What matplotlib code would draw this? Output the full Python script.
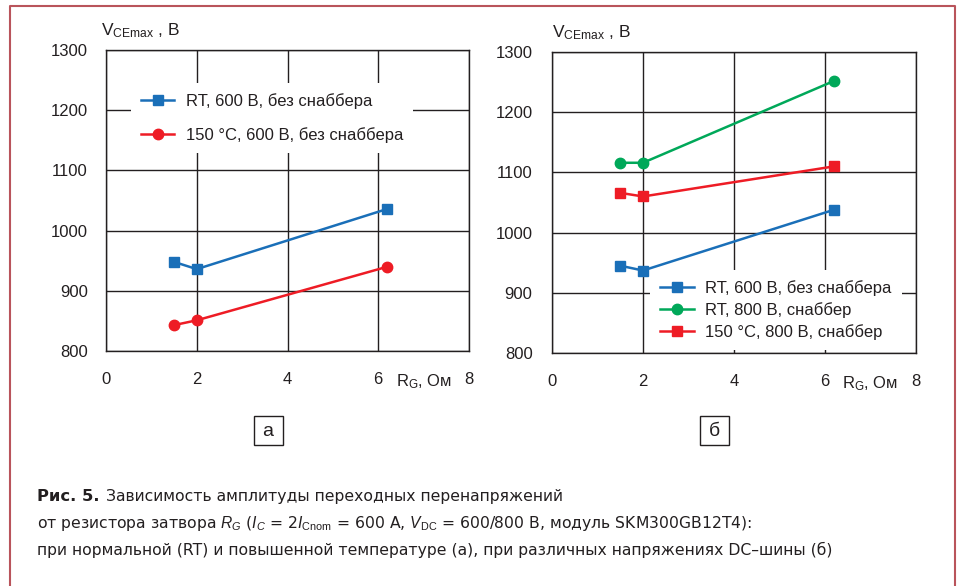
import matplotlib
matplotlib.use('Agg')
import matplotlib.pyplot as plt
from matplotlib.lines import Line2D
from matplotlib.patches import Rectangle

plt.rcParams['font.family'] = ['Liberation Sans', 'DejaVu Sans']
plt.rcParams['mathtext.fontset'] = 'custom'
plt.rcParams['mathtext.rm'] = 'Liberation Sans'
plt.rcParams['mathtext.it'] = 'Liberation Sans:italic'
plt.rcParams['mathtext.bf'] = 'Liberation Sans:bold'

# ---- data ----
x_ticks = [0, 2, 4, 6, 8]
y_ticks = [800, 900, 1000, 1100, 1200, 1300]

rg_a = [1.5, 2, 6.2]
a_rt600 = [948, 936, 1036]
a_hot600 = [843, 851, 940]
labels_a = ['RT, 600 В, без снаббера', '150 °C, 600 В, без снаббера']

rg_b = [1.5, 2, 6.2]
b_rt600 = [945, 937, 1038]
b_rt800 = [1116, 1116, 1252]
b_hot800 = [1066, 1060, 1110]
labels_b = ['RT, 600 В, без снаббера', 'RT, 800 В, снаббер', '150 °C, 800 В, снаббер']

BLUE = '#1a6fb8'
RED = '#ee1c25'
GREEN = '#00a859'
INK = '#231f20'
BORDER = '#b9545b'

W, H = 959, 586
fig = plt.figure(figsize=(W / 100, H / 100), dpi=100)


def px_rect(x0, y0, x1, y1):
    return [x0 / W, 1 - y1 / H, (x1 - x0) / W, (y1 - y0) / H]


def style_axes(ax, ylab_x, ypad):
    ax.set_xlim(0, 8)
    ax.set_ylim(800, 1300)
    ax.set_xticks(x_ticks)
    ax.set_yticks(y_ticks)
    ax.set_xticklabels([str(v) for v in x_ticks])
    ax.set_yticklabels([str(v) for v in y_ticks])
    ax.tick_params(axis='both', length=0, labelsize=12, colors=INK)
    ax.tick_params(axis='x', pad=15)
    ax.tick_params(axis='y', pad=ypad)
    ax.grid(True, color=INK, lw=1.0)
    ax.set_axisbelow(True)
    for s in ax.spines.values():
        s.set_color(INK)
        s.set_linewidth(1.0)
    ax.text(ylab_x, 1.05, r'$\mathrm{V_{CEmax}}$ , В', transform=ax.transAxes,
            fontsize=12.5, color=INK, ha='left', va='baseline')
    ax.annotate(r'$\mathrm{R_G}$, Ом', xy=(7.0, 800), xycoords='data',
                xytext=(0, -15), textcoords='offset points',
                fontsize=12, color=INK, ha='center', va='top',
                annotation_clip=False)


# ---- panel a ----
ax1 = fig.add_axes(px_rect(106, 50, 469, 351))
ax1.plot(rg_a, a_rt600, color=BLUE, lw=1.8, marker='s', ms=6.5, label=labels_a[0])
ax1.plot(rg_a, a_hot600, color=RED, lw=1.8, marker='o', ms=7.5, label=labels_a[1])
style_axes(ax1, -0.015, 13)
leg1 = ax1.legend(loc='upper left', bbox_to_anchor=(0.069, 0.89), frameon=True,
                  fancybox=False, edgecolor='none', facecolor='white', framealpha=1,
                  fontsize=12, handlelength=2.0, handletextpad=0.7,
                  labelspacing=1.1, borderpad=0.6, borderaxespad=0)
for t in leg1.get_texts():
    t.set_color(INK)

# ---- panel b ----
ax2 = fig.add_axes(px_rect(552, 52, 916, 353))
ax2.plot(rg_b, b_rt600, color=BLUE, lw=1.8, marker='s', ms=6.5, label=labels_b[0])
ax2.plot(rg_b, b_rt800, color=GREEN, lw=1.8, marker='o', ms=7.5, label=labels_b[1])
ax2.plot(rg_b, b_hot800, color=RED, lw=1.8, marker='s', ms=6.5, label=labels_b[2])
style_axes(ax2, 0.0, 14)
leg2 = ax2.legend(loc='upper left', bbox_to_anchor=(0.27, 0.276), frameon=True,
                  fancybox=False, edgecolor='none', facecolor='white', framealpha=1,
                  fontsize=12, handlelength=2.0, handletextpad=0.7,
                  labelspacing=0.38, borderpad=0.6, borderaxespad=0)
for t in leg2.get_texts():
    t.set_color(INK)

# ---- sub-labels ----
for cx, cy, lab in [(268, 430, 'а'), (714, 430, 'б')]:
    fig.add_artist(Rectangle(((cx - 14.5) / W, 1 - (cy + 14.5) / H), 29 / W, 29 / H,
                             transform=fig.transFigure, fc='white', ec=INK, lw=1.0))
    fig.text(cx / W, 1 - (cy + 1) / H, lab, ha='center', va='center', fontsize=14, color=INK)

# ---- frame border ----
fig.add_artist(Line2D([9.5 / W, 9.5 / W, 955 / W, 955 / W], [0, 1 - 5.5 / H, 1 - 5.5 / H, 0],
                      transform=fig.transFigure, color=BORDER, lw=1.5))

# ---- caption ----
cap_font = ['DejaVu Sans']
CAP = 11.25
t_bold = fig.text(37 / W, 1 - 501 / H, 'Рис. 5.', fontsize=CAP + 0.5, fontweight='bold',
                  family=cap_font, color=INK, ha='left', va='baseline')
fig.canvas.draw()
bb = t_bold.get_window_extent()
fig.text((bb.x1 + 6) / W, 1 - 501 / H, 'Зависимость амплитуды переходных перенапряжений',
         fontsize=CAP, family=cap_font, color=INK, ha='left', va='baseline')
fig.text(37 / W, 1 - 528 / H,
         r'от резистора затвора $R_G$ ($I_C$ = 2$I_{\mathrm{Cnom}}$ = 600 А, $V_{\mathrm{DC}}$ = 600/800 В, модуль SKM300GB12T4):',
         fontsize=CAP, family=cap_font, color=INK, ha='left', va='baseline')
fig.text(37 / W, 1 - 555 / H,
         'при нормальной (RT) и повышенной температуре (а), при различных напряжениях DC–шины (б)',
         fontsize=CAP, family=cap_font, color=INK, ha='left', va='baseline')

fig.savefig('out.png', dpi=100)
